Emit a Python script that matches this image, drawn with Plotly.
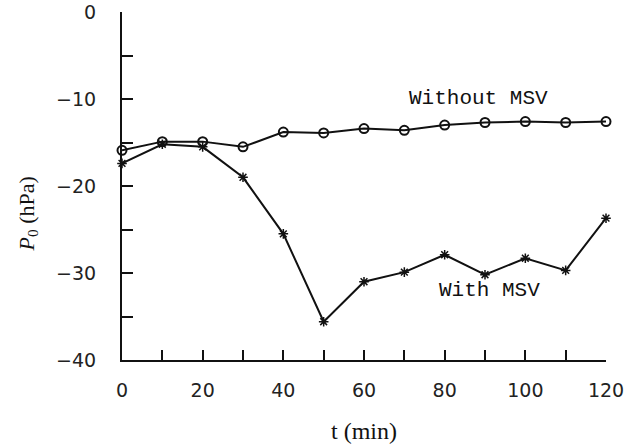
import plotly.graph_objects as go

# Time axis (min) and central pressure perturbation (hPa)
t_min = [0, 10, 20, 30, 40, 50, 60, 70, 80, 90, 100, 110, 120]
p_without_msv = [-15.9, -14.9, -14.9, -15.5, -13.8, -13.9, -13.4, -13.6, -13.0, -12.7, -12.6, -12.7, -12.6]
p_with_msv = [-17.4, -15.2, -15.5, -19.0, -25.5, -35.6, -31.0, -29.9, -27.9, -30.2, -28.3, -29.7, -23.7]

x_ticks = [0, 20, 40, 60, 80, 100, 120]
y_ticks = [0, -10, -20, -30, -40]

ink = "#111111"

fig = go.Figure()
fig.add_trace(go.Scatter(
    x=t_min, y=p_without_msv, mode="lines+markers",
    line=dict(color=ink, width=2),
    marker=dict(symbol="circle-open", size=9, line=dict(color=ink, width=2)),
    cliponaxis=False, showlegend=False,
))
fig.add_trace(go.Scatter(
    x=t_min, y=p_with_msv, mode="lines+markers",
    line=dict(color=ink, width=2),
    marker=dict(symbol="asterisk-open", size=8, line=dict(color=ink, width=1.5)),
    cliponaxis=False, showlegend=False,
))

label_font = dict(family="Liberation Mono", size=21, color=ink)
fig.add_annotation(x=88.3, y=-9.9, text="Without MSV", showarrow=False, font=label_font)
fig.add_annotation(x=91, y=-32, text="With MSV", showarrow=False, font=label_font)

# y-axis title, set a little below the axis centre
fig.add_annotation(
    xref="paper", yref="paper", x=-0.195, y=0.42, xanchor="center", yanchor="middle",
    text="<i>P</i><sub>0</sub> (hPa)", textangle=-90, showarrow=False,
    font=dict(family="Liberation Serif", size=22, color=ink),
)

tick_font = dict(family="DejaVu Sans", size=19, color="#222222")

fig.update_xaxes(
    range=[0, 120], tickvals=x_ticks, ticks="inside", ticklen=10, tickwidth=2,
    tickcolor=ink, showline=True, linecolor=ink, linewidth=2, showgrid=False,
    zeroline=False, tickfont=tick_font, ticklabelstandoff=12, automargin=False,
    minor=dict(dtick=10, tick0=0, ticks="inside", ticklen=10, tickwidth=2, tickcolor=ink, showgrid=False),
    title=dict(text="t (min)", font=dict(family="Liberation Serif", size=24, color=ink), standoff=26),
)
fig.update_yaxes(
    range=[-40, 0], tickvals=y_ticks, ticks="inside", ticklen=11, tickwidth=2,
    tickcolor=ink, showline=True, linecolor=ink, linewidth=2, showgrid=False,
    zeroline=False, tickfont=tick_font, ticklabelstandoff=20, automargin=False,
    minor=dict(dtick=5, tick0=0, ticks="inside", ticklen=11, tickwidth=2, tickcolor=ink, showgrid=False),
)

fig.update_layout(
    width=630, height=444,
    margin=dict(l=122, r=24, t=12, b=84),
    plot_bgcolor="white", paper_bgcolor="white",
)

fig.write_html("out.html")
